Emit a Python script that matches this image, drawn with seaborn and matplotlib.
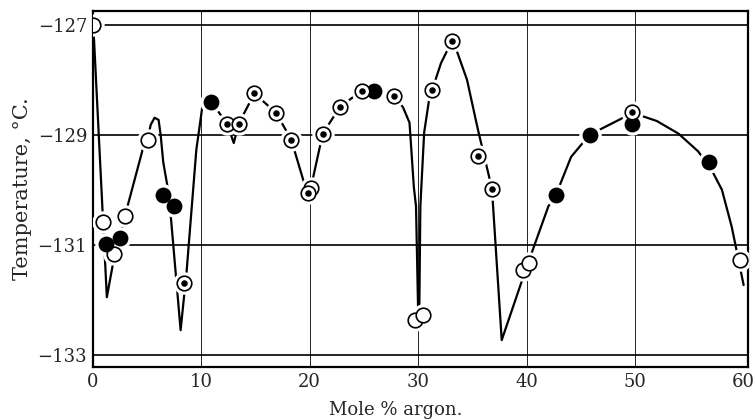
"""
Freezing-point diagram, argon mixtures
"""

import matplotlib
matplotlib.use("Agg")
import matplotlib.pyplot as plt
import seaborn as sns
import pandas as pd

# measured points (mole % argon, temperature C)
open_x = [0.0, 0.9, 2.0, 3.0, 5.05, 20.1, 29.7, 30.4, 39.7, 40.2, 59.7]
open_t = [-127.0, -130.58, -131.16, -130.47, -129.09, -129.96, -132.36, -132.27, -131.45, -131.33, -131.27]

filled_x = [1.2, 2.5, 6.5, 7.45, 10.9, 25.9, 42.7, 45.8, 49.7, 56.8]
filled_t = [-130.98, -130.87, -130.09, -130.29, -128.4, -128.2, -130.09, -129.0, -128.8, -129.5]

ring_x = [8.45, 12.4, 13.45, 14.9, 16.9, 18.3, 19.8, 21.2, 22.8, 24.8, 27.8, 31.3, 33.1, 35.5, 36.8, 49.7]
ring_t = [-131.7, -128.8, -128.8, -128.25, -128.6, -129.09, -130.05, -128.98, -128.49, -128.2, -128.3,
          -128.18, -127.3, -129.38, -129.98, -128.58]

# drawn curve
curve_x = [0.1, 1.3, 1.85, 2.5, 3.0, 4.6, 5.05, 5.34, 5.7, 6.07, 6.26, 6.5, 6.9, 7.2, 8.1, 8.65, 9.55,
           9.85, 10.1, 10.5, 10.9, 12.4, 13.0, 13.45, 14.9, 16.9, 18.3, 19.9, 21.2, 22.8, 24.8, 25.9,
           27.8, 28.6, 29.2, 29.6, 29.8, 30.0, 30.1, 30.2, 30.55, 31.0, 31.3, 32.1, 33.1, 33.6, 34.5,
           35.5, 36.8, 37.7, 40.0, 42.0, 42.7, 44.1, 45.8, 47.6, 49.1, 50.5, 52.0, 54.0, 55.8, 57.0,
           58.0, 58.9, 59.4, 60.0]
curve_t = [-127.2, -131.95, -131.36, -130.85, -130.45, -129.27, -129.09, -128.82, -128.69, -128.73, -129.0,
           -129.5, -129.95, -130.49, -132.55, -131.49, -129.27, -128.85, -128.49, -128.42, -128.4,
           -128.8, -129.15, -128.8, -128.25, -128.6, -129.09, -130.15, -128.98, -128.49, -128.2, -128.2,
           -128.3, -128.5, -128.78, -129.95, -130.3, -132.25, -132.25, -130.3, -128.96, -128.37, -128.18,
           -127.7, -127.3, -127.5, -128.0, -128.9, -129.98, -132.73, -131.4, -130.3, -130.09, -129.4,
           -129.0, -128.82, -128.67, -128.65, -128.75, -128.98, -129.3, -129.62, -130.0, -130.67,
           -131.15, -131.73]

y_ticks = [-127, -129, -131, -133]
x_ticks = [0, 10, 20, 30, 40, 50, 60]

sns.set_style("white")
plt.rcParams["font.family"] = ["DejaVu Serif"]

fig = plt.figure(figsize=(7.54, 4.2), dpi=100)
ax = fig.add_axes([0.123, 0.126, 0.869, 0.848])

curve = pd.DataFrame({"x": curve_x, "t": curve_t})
sns.lineplot(data=curve, x="x", y="t", sort=False, color="black", lw=1.6, ax=ax, zorder=3)

allx = open_x + filled_x + ring_x
allt = open_t + filled_t + ring_t
# white halo so the curve breaks around each point
sns.scatterplot(x=allx, y=allt, s=260, color="white", linewidth=0, ax=ax, zorder=4)
sns.scatterplot(x=open_x, y=open_t, s=110, facecolor="white", edgecolor="black", linewidth=1.2, ax=ax, zorder=5)
sns.scatterplot(x=filled_x, y=filled_t, s=130, color="black", linewidth=0, ax=ax, zorder=5)
sns.scatterplot(x=ring_x, y=ring_t, s=110, facecolor="white", edgecolor="black", linewidth=1.2, ax=ax, zorder=5)
sns.scatterplot(x=ring_x, y=ring_t, s=22, color="black", linewidth=0, ax=ax, zorder=6)

for t in y_ticks:
    ax.axhline(t, color="black", lw=1.2, zorder=1)
for x in x_ticks[1:-1]:
    ax.axvline(x, color="black", lw=0.6, zorder=1)

ax.set_xlim(0, 60.4)
ax.set_ylim(-133.22, -126.75)
ax.set_xticks(x_ticks)
ax.set_yticks(y_ticks)
ax.tick_params(length=0, labelsize=13, pad=4)
for s in ax.spines.values():
    s.set_color("black")
    s.set_linewidth(1.6)

ax.set_xlabel("Mole % argon.", fontsize=13)
ax.xaxis.set_label_coords(0.462, -0.095)
ax.set_ylabel("Temperature, °C.", fontsize=15, labelpad=4)

fig.savefig("out.png", dpi=100)
